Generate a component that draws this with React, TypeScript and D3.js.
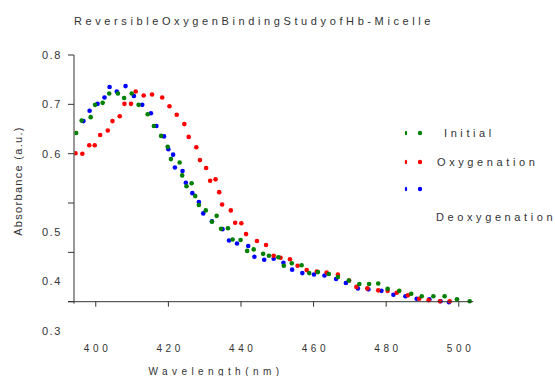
import React from "react";
import * as d3 from "d3";

const initialWl = [394.6, 396.1, 398.6, 399.8, 401.9, 403.7, 406.1, 407.8, 409.9, 411.8, 414.3, 416.0, 418.0, 419.8, 420.7, 423.1, 423.8, 425.0, 426.4, 427.4, 428.4, 430.3, 432.0, 433.3, 434.5, 436.4, 437.7, 439.9, 441.7, 443.5, 446.1, 447.7, 450.3, 451.8, 454.0, 456.7, 458.8, 461.2, 464.2, 466.7, 469.7, 472.6, 475.3, 477.8, 480.4, 483.6, 486.9, 489.8, 493.0, 496.1, 499.5, 503.0];
const initialAbs = [0.642, 0.667, 0.674, 0.699, 0.703, 0.722, 0.722, 0.713, 0.722, 0.699, 0.680, 0.656, 0.636, 0.614, 0.589, 0.582, 0.556, 0.534, 0.540, 0.514, 0.496, 0.485, 0.462, 0.474, 0.448, 0.449, 0.426, 0.425, 0.403, 0.406, 0.397, 0.393, 0.390, 0.373, 0.378, 0.374, 0.358, 0.360, 0.356, 0.350, 0.343, 0.336, 0.336, 0.337, 0.326, 0.322, 0.316, 0.311, 0.311, 0.311, 0.305, 0.301];

const oxyWl = [394.4, 396.3, 398.2, 399.7, 401.2, 403.3, 404.6, 406.6, 407.9, 409.7, 411.0, 413.2, 415.5, 418.3, 420.3, 422.3, 424.4, 425.6, 427.7, 428.7, 430.4, 431.5, 433.0, 434.0, 434.8, 437.2, 438.4, 440.1, 441.4, 444.4, 446.9, 449.0, 450.9, 453.5, 455.6, 458.1, 460.9, 463.6, 466.7, 469.8, 471.8, 474.8, 477.8, 480.4, 482.9, 486.0, 489.1, 491.7, 494.8, 497.5];
const oxyAbs = [0.601, 0.600, 0.617, 0.617, 0.638, 0.647, 0.666, 0.676, 0.701, 0.701, 0.726, 0.718, 0.720, 0.714, 0.696, 0.679, 0.660, 0.634, 0.613, 0.587, 0.571, 0.545, 0.548, 0.522, 0.497, 0.485, 0.460, 0.459, 0.437, 0.423, 0.415, 0.393, 0.389, 0.386, 0.373, 0.364, 0.361, 0.359, 0.355, 0.343, 0.330, 0.327, 0.323, 0.322, 0.318, 0.313, 0.306, 0.303, 0.301, 0.301];

const deoxyWl = [396.6, 398.3, 400.5, 402.4, 403.8, 405.8, 408.2, 410.5, 412.8, 415.2, 416.7, 418.8, 420.0, 421.3, 421.8, 423.9, 424.8, 426.6, 428.4, 429.6, 432.0, 434.9, 436.7, 438.9, 442.0, 443.7, 446.4, 449.0, 451.7, 454.1, 456.9, 460.1, 463.0, 466.2, 468.9, 472.2, 475.1, 478.7, 482.0, 485.3, 488.4, 491.9, 495.0, 497.3];
const deoxyAbs = [0.666, 0.687, 0.701, 0.714, 0.735, 0.726, 0.737, 0.717, 0.699, 0.682, 0.656, 0.635, 0.609, 0.598, 0.572, 0.565, 0.541, 0.520, 0.502, 0.479, 0.463, 0.447, 0.424, 0.418, 0.413, 0.391, 0.385, 0.387, 0.379, 0.365, 0.358, 0.355, 0.353, 0.346, 0.338, 0.327, 0.325, 0.322, 0.314, 0.311, 0.306, 0.305, 0.301, 0.299];

const xTicks = [400, 420, 440, 460, 480, 500];
const yTicks = [0.3, 0.4, 0.5, 0.6, 0.7, 0.8];
const seriesNames = ["Initial", "Oxygenation", "Deoxygenation"];
const seriesColors = ["#008000", "#ff0000", "#0000ff"];

const FONT = "Arial, 'Liberation Sans', Helvetica, sans-serif";

export default function App() {
  const x = d3.scaleLinear().domain([394, 504]).range([74, 473.3]);
  const y = d3.scaleLinear().domain([0.3, 0.8]).range([301.7, 55]);

  const series = [
    { name: seriesNames[0], color: seriesColors[0], wl: initialWl, abs: initialAbs },
    { name: seriesNames[1], color: seriesColors[1], wl: oxyWl, abs: oxyAbs },
    { name: seriesNames[2], color: seriesColors[2], wl: deoxyWl, abs: deoxyAbs },
  ];
  const drawOrder = [2, 1, 0];
  const r = 2.3;
  const axisColor = "#333";
  const textColor = "#333";

  const legendY = [133, 162, 189];
  const legendTextPos = [
    { x: 444, y: 137 },
    { x: 437, y: 166 },
    { x: 436, y: 221 },
  ];

  return (
    <svg
      width={555}
      height={376}
      style={{ position: "absolute", left: 0, top: 0, background: "#fff" }}
      fontFamily={FONT}
    >
      <defs>
        <clipPath id="plotClip">
          <rect x={74.5} y={40} width={420} height={270} />
        </clipPath>
      </defs>
      <rect x={0} y={0} width={555} height={376} fill="#fff" />

      <text
        x={254}
        y={25}
        textAnchor="middle"
        fontSize={11}
        fill={textColor}
        style={{ letterSpacing: "3.6px", wordSpacing: "-6.6px" }}
      >
        Reversible Oxygen Binding Study of Hb-Micelle
      </text>

      {/* data */}
      <g clipPath="url(#plotClip)">
        {drawOrder.map((si) => {
          const s = series[si];
          return (
            <g key={s.name}>
              {s.wl.map((w, i) => (
                <circle key={i} cx={x(w)} cy={y(s.abs[i])} r={r} fill={s.color} />
              ))}
            </g>
          );
        })}
      </g>

      {/* y axis */}
      <line x1={74} x2={74} y1={y(0.8)} y2={y(0.3) + 2} stroke={axisColor} strokeWidth={1} />
      {yTicks.map((t) => (
        <g key={t}>
          <line x1={68} x2={74} y1={y(t)} y2={y(t)} stroke={axisColor} strokeWidth={1} />
          <text
            x={62}
            y={y(t) + (t <= 0.5 ? 29 : 0) + 4}
            textAnchor="end"
            fontSize={11}
            fill={textColor}
            style={{ letterSpacing: "1.6px" }}
          >
            {t.toFixed(1)}
          </text>
        </g>
      ))}

      {/* x axis */}
      <line x1={68} x2={473.3} y1={y(0.3)} y2={y(0.3)} stroke={axisColor} strokeWidth={1} />
      {xTicks.map((t) => (
        <g key={t}>
          <line x1={x(t)} x2={x(t)} y1={y(0.3)} y2={y(0.3) + 5} stroke={axisColor} strokeWidth={1} />
          <text
            x={x(t) + 1.8}
            y={352}
            textAnchor="middle"
            fontSize={10}
            fill={textColor}
            style={{ letterSpacing: "3.6px" }}
          >
            {t}
          </text>
        </g>
      ))}

      <text
        x={216}
        y={375}
        textAnchor="middle"
        fontSize={10}
        fill={textColor}
        style={{ letterSpacing: "4.4px", wordSpacing: "-7px" }}
      >
        Wavelength (nm)
      </text>

      <text
        transform={`translate(22,181) rotate(-90)`}
        textAnchor="middle"
        fontSize={11}
        fill={textColor}
        style={{ letterSpacing: "1.3px" }}
      >
        Absorbance (a.u.)
      </text>

      {/* legend */}
      {series.map((s, i) => (
        <g key={s.name}>
          <ellipse cx={406} cy={legendY[i]} rx={1.2} ry={2.2} fill={s.color} />
          <circle cx={420} cy={legendY[i]} r={2.2} fill={s.color} />
          <text
            x={legendTextPos[i].x}
            y={legendTextPos[i].y}
            fontSize={11}
            fill={textColor}
            style={{ letterSpacing: "3.6px" }}
          >
            {s.name}
          </text>
        </g>
      ))}
    </svg>
  );
}
